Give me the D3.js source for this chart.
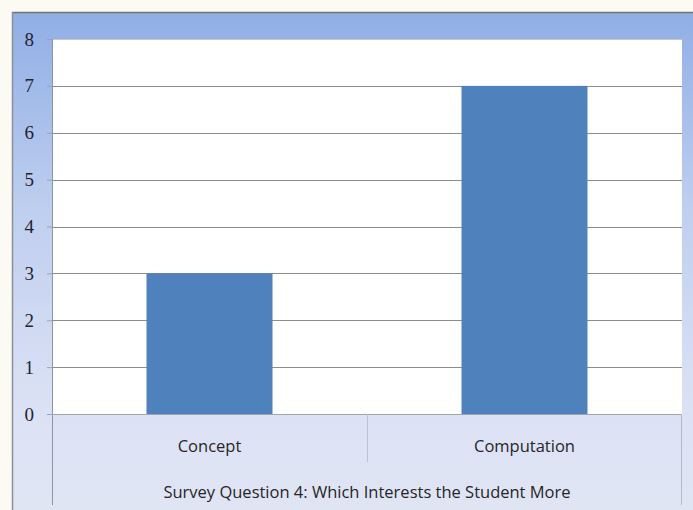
<!DOCTYPE html>
<html>
<head>
<meta charset="utf-8">
<script src="https://cdn.jsdelivr.net/npm/d3@7"></script>
<style>
  body { margin: 0; background: #fbfbf4; }
  svg { display: block; }
</style>
</head>
<body>
<script>
// chart values
let categories = ["Concept", "Computation"];
let counts = [3, 7];
let yTicks = [0, 1, 2, 3, 4, 5, 6, 7, 8];
let axisTitle = "Survey Question 4: Which Interests the Student More";

function draw() {
    let width = 693, height = 510;
    let plot = { left: 52, right: 682, top: 39, bottom: 414 };

    let svg = d3.select("body")
        .append("svg")
        .attr("width", width)
        .attr("height", height);

    let defs = svg.append("defs");
    let grad = defs.append("linearGradient")
        .attr("id", "bg")
        .attr("x1", 0).attr("y1", 0).attr("x2", 0).attr("y2", 1);
    grad.append("stop").attr("offset", "0%").attr("stop-color", "#90aee6");
    grad.append("stop").attr("offset", "40%").attr("stop-color", "#bfcfef");
    grad.append("stop").attr("offset", "80%").attr("stop-color", "#dce2f5");
    grad.append("stop").attr("offset", "100%").attr("stop-color", "#e0e5f4");

    // chart frame
    svg.append("rect")
        .attr("x", 12).attr("y", 12)
        .attr("width", width - 12).attr("height", height - 12)
        .attr("fill", "url(#bg)");
    svg.append("line")
        .attr("x1", 12).attr("x2", width).attr("y1", 12.5).attr("y2", 12.5)
        .attr("stroke", "#6f7378").attr("stroke-width", 1.5);
    svg.append("line")
        .attr("x1", 12.5).attr("x2", 12.5).attr("y1", 12).attr("y2", height)
        .attr("stroke", "#8a8f99").attr("stroke-width", 1.5);

    let x = d3.scaleBand()
        .domain(categories)
        .range([plot.left, plot.right])
        .paddingInner(0.6)
        .paddingOuter(0.3);

    let bands = d3.scaleBand()
        .domain(categories)
        .range([plot.left, plot.right]);

    let y = d3.scaleLinear()
        .domain([0, 8])
        .range([plot.bottom, plot.top]);

    // white plot area
    svg.append("rect")
        .attr("x", plot.left).attr("y", plot.top)
        .attr("width", plot.right - plot.left)
        .attr("height", plot.bottom - plot.top)
        .attr("fill", "#ffffff");

    // gridlines
    svg.append("g")
        .selectAll("line")
        .data(yTicks.filter(d => d > 0))
        .enter()
        .append("line")
        .attr("x1", plot.left).attr("x2", plot.right)
        .attr("y1", d => Math.round(y(d)) + 0.5)
        .attr("y2", d => Math.round(y(d)) + 0.5)
        .attr("stroke", d => d == 8 ? "#c4c8d0" : "#8c8c8c")
        .attr("stroke-width", 1);

    // bars
    svg.append("g")
        .selectAll("rect")
        .data(counts)
        .enter()
        .append("rect")
        .attr("x", (d, i) => x(categories[i]))
        .attr("y", d => y(d))
        .attr("width", x.bandwidth())
        .attr("height", d => y(0) - y(d))
        .attr("fill", "#4f81bd");

    // y axis
    let yAxis = d3.axisLeft(y)
        .tickValues(yTicks)
        .tickSize(5)
        .tickPadding(13);
    let gy = svg.append("g")
        .attr("transform", "translate(" + plot.left + ",0)")
        .call(yAxis);
    gy.select(".domain").remove();
    gy.selectAll(".tick line").attr("stroke", "#9aa3b5");
    gy.selectAll(".tick text")
        .attr("fill", "#1f2430")
        .style("font-family", "'Liberation Serif', 'DejaVu Serif', serif")
        .style("font-size", "19px");

    // axis lines
    svg.append("line")
        .attr("x1", plot.left + 0.5).attr("x2", plot.left + 0.5)
        .attr("y1", plot.top).attr("y2", 505)
        .attr("stroke", "#8f949e");
    svg.append("line")
        .attr("x1", plot.left).attr("x2", plot.right)
        .attr("y1", plot.bottom + 0.5).attr("y2", plot.bottom + 0.5)
        .attr("stroke", "#a0a4ac");
    svg.append("line")
        .attr("x1", plot.right - 0.5).attr("x2", plot.right - 0.5)
        .attr("y1", plot.bottom).attr("y2", 505)
        .attr("stroke", "#b4b9c6");

    // category dividers
    svg.append("g")
        .selectAll("line")
        .data(categories.slice(1))
        .enter()
        .append("line")
        .attr("x1", d => bands(d) + 0.5).attr("x2", d => bands(d) + 0.5)
        .attr("y1", plot.bottom).attr("y2", 462)
        .attr("stroke", "#bcc2cf");

    // category labels
    svg.append("g")
        .selectAll("text")
        .data(categories)
        .enter()
        .append("text")
        .attr("x", d => bands(d) + bands.bandwidth() / 2)
        .attr("y", 452)
        .attr("text-anchor", "middle")
        .attr("fill", "#262626")
        .style("font-family", "'Open Sans', sans-serif")
        .style("font-size", "16.5px")
        .text(d => d);

    svg.append("text")
        .attr("x", (plot.left + plot.right) / 2)
        .attr("y", 498)
        .attr("text-anchor", "middle")
        .attr("fill", "#262626")
        .style("font-family", "'Open Sans', sans-serif")
        .style("font-size", "16.5px")
        .text(axisTitle);
}

draw();
</script>
</body>
</html>
